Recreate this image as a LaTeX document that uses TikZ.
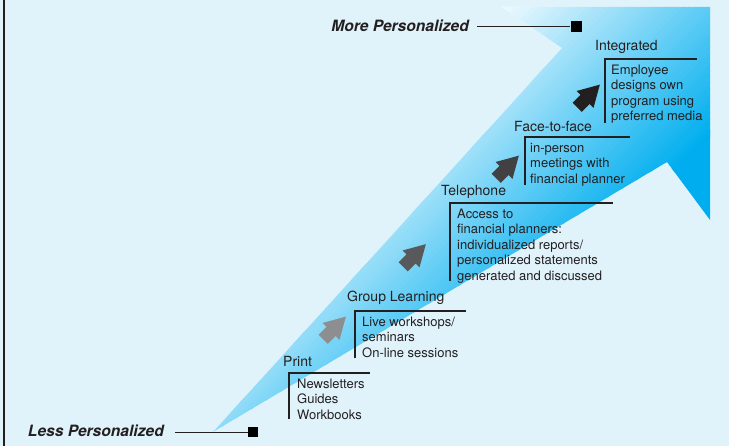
\documentclass[tikz,border=0pt]{standalone}
\usepackage{fontspec}
\setmainfont{TeX Gyre Heros}
\definecolor{bg}{HTML}{E0F3FB}
\definecolor{procyan}{HTML}{00AEEF}
\definecolor{ink}{HTML}{231F20}
\definecolor{arrowA}{HTML}{8D8E90}
\definecolor{arrowB}{HTML}{58595B}
\definecolor{arrowC}{HTML}{414042}
\definecolor{arrowD}{HTML}{231F20}
\tikzset{
  % chunky block arrow, origin at the middle of the head's base
  blockarrow/.pic={\fill[pic actions] (-11,-6.5) -- (0,-6.5) -- (0,-12) -- (21,0)
                   -- (0,12) -- (0,6.5) -- (-11,6.5) -- cycle;},
  steptitle/.style={anchor=base west, inner sep=0pt, text=ink,
                    font=\fontsize{14}{16}\selectfont},
  stepbody/.style={anchor=north west, inner sep=0pt, align=left, text=ink,
                   font=\fontsize{13}{15.5}\selectfont},
  bracket/.style={draw=ink, line width=1.8pt, line join=miter},
  endlabel/.style={inner sep=0pt, text=ink, anchor=base east,
                   font=\fontsize{15.6}{18}\bfseries\itshape},
  endbox/.style={fill=black, inner sep=0pt, minimum size=11pt},
  endline/.style={draw=ink, line width=0.9pt},
}
\begin{document}
\begin{tikzpicture}[x=1pt,y=-1pt]
\useasboundingbox (0,0) rectangle (729,446);
\fill[bg] (0,0) rectangle (729,446);
\draw[ink, line width=2.5pt] (4,0) -- (4,446);

% large shaded arrow, light at upper left and saturated cyan toward lower right
\begin{scope}
  \clip (213,432) -- (562,48) -- (502,7) -- (710,7) -- (710,220) -- (667,162) -- cycle;
  \fill[white] (150,0) rectangle (729,446);
  \foreach \c in {480,486,...,840} {
    \pgfmathtruncatemacro\pc{min(100,(\c-480)/3.6)}
    \fill[procyan!\pc!white] (\c/2-500,\c/2+500) -- (\c/2+500,\c/2-500)
      -- (\c/2+507,\c/2-500) -- (\c/2-493,\c/2+500) -- cycle;
  }
  \fill[procyan] (-80,920) -- (920,-80) -- (1500,1500) -- cycle;
\end{scope}

% end labels
\node[endlabel] (more) at (469,31.5) {More Personalized};
\coordinate (moreline) at (477,26.5);
\node[endbox] (morebox) at (576,26.5) {};
\draw[endline] (moreline) -- (morebox);

\node[endlabel] (less) at (164,436.5) {Less Personalized};
\coordinate (lessline) at (175,432);
\node[endbox, minimum size=10pt] (lessbox) at (253,432) {};
\draw[endline] (lessline) -- (lessbox);

% step arrows
\pic[arrowA, rotate=45] at (331,331.5) {blockarrow};
\pic[arrowB, rotate=45] at (411,259) {blockarrow};
\pic[arrowC, rotate=45] at (504,170.5) {blockarrow};
\pic[arrowD, rotate=45] at (585,99.5) {blockarrow};

% Print
\node[steptitle] (print) at (283,367) {Print};
\coordinate (printtl) at (289,373);
\draw[bracket] (289,419) -- (printtl) -- (370,373);
\node[stepbody] (printbody) at (297,377.2) {\strut Newsletters\\Guides\\Workbooks};

% Group Learning
\node[steptitle] (group) at (347,302) {Group Learning};
\coordinate (grouptl) at (355,311);
\draw[bracket] (355,358) -- (grouptl) -- (466,311);
\node[stepbody] (groupbody) at (362,315.2) {\strut Live workshops/\\seminars\\On-line sessions};

% Telephone
\node[steptitle] (phone) at (441,196) {Telephone};
\coordinate (phonetl) at (450,203);
\draw[bracket] (450,281) -- (phonetl) -- (613,203);
\node[stepbody] (phonebody) at (457,207.2) {\strut Access to\\financial planners:\\individualized reports/\\personalized statements\\generated and discussed};

% Face-to-face
\node[steptitle] (face) at (514,132) {Face-to-face};
\coordinate (facetl) at (525,137);
\draw[bracket] (525,185) -- (facetl) -- (630,137);
\node[stepbody] (facebody) at (530,141.2) {\strut in-person\\meetings with\\financial planner};

% Integrated
\node[steptitle] (integ) at (595,51) {Integrated};
\coordinate (integtl) at (605,59);
\draw[bracket] (605,123) -- (integtl) -- (697,59);
\node[stepbody] (integbody) at (611,63.2) {\strut Employee\\designs own\\program using\\preferred media};
\end{tikzpicture}
\end{document}
